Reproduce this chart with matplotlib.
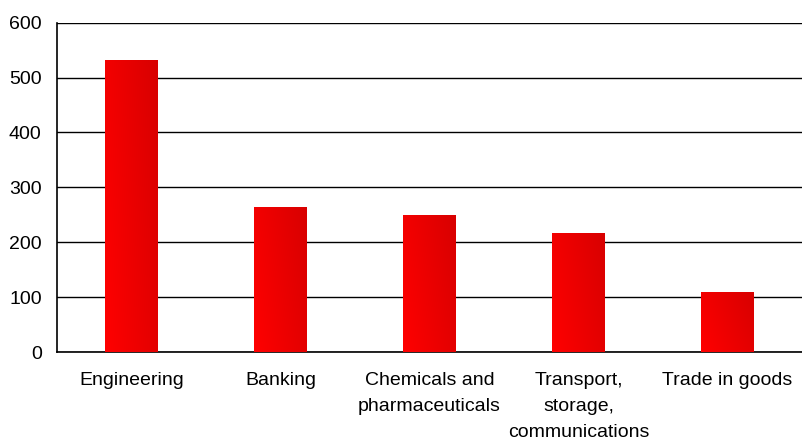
import numpy as np
import matplotlib
matplotlib.use("Agg")
import matplotlib.pyplot as plt
from matplotlib.colors import LinearSegmentedColormap

categories = ["Engineering", "Banking", "Chemicals and\npharmaceuticals",
              "Transport,\nstorage,\ncommunications", "Trade in goods"]
values = [532, 265, 250, 217, 109]
yticks = [0, 100, 200, 300, 400, 500, 600]

plt.rcParams['font.family'] = ['Liberation Sans', 'DejaVu Sans']

fig = plt.figure(figsize=(8.02, 4.41), dpi=100)
ax = fig.add_axes([0.0711, 0.2018, 0.9289, 0.7467])

x = np.arange(len(categories))
bars = ax.bar(x, values, width=0.35, color='none', edgecolor='none', zorder=3)

cmap = LinearSegmentedColormap.from_list("redgrad", ["#ff0000", "#d80000"])
gy, gx = np.mgrid[0:1:100j, 0:1:100j]
grad = (gx * 0.7 + gy * 0.3)
for b in bars:
    x0, y0 = b.get_x(), b.get_y()
    w, h = b.get_width(), b.get_height()
    im = ax.imshow(grad, cmap=cmap, extent=[x0, x0 + w, y0 + h, y0],
                   aspect='auto', zorder=3, interpolation='bilinear', origin='upper')
    im.set_clip_path(b)

ax.set_xlim(-0.5, len(categories) - 0.5)
ax.set_ylim(0, 600)
ax.set_yticks(yticks)
ax.set_xticks(x)
ax.set_xticklabels(categories, linespacing=1.7)
ax.yaxis.grid(True, color='black', linewidth=1.0, zorder=0)
ax.set_axisbelow(True)
for s in ['top', 'right']:
    ax.spines[s].set_visible(False)
ax.spines['left'].set_linewidth(1.2)
ax.spines['bottom'].set_linewidth(1.2)
ax.tick_params(axis='both', length=0, labelsize=14, colors='black')
ax.tick_params(axis='x', pad=14.5)
ax.tick_params(axis='y', pad=11)

fig.savefig("out.png", dpi=100)
